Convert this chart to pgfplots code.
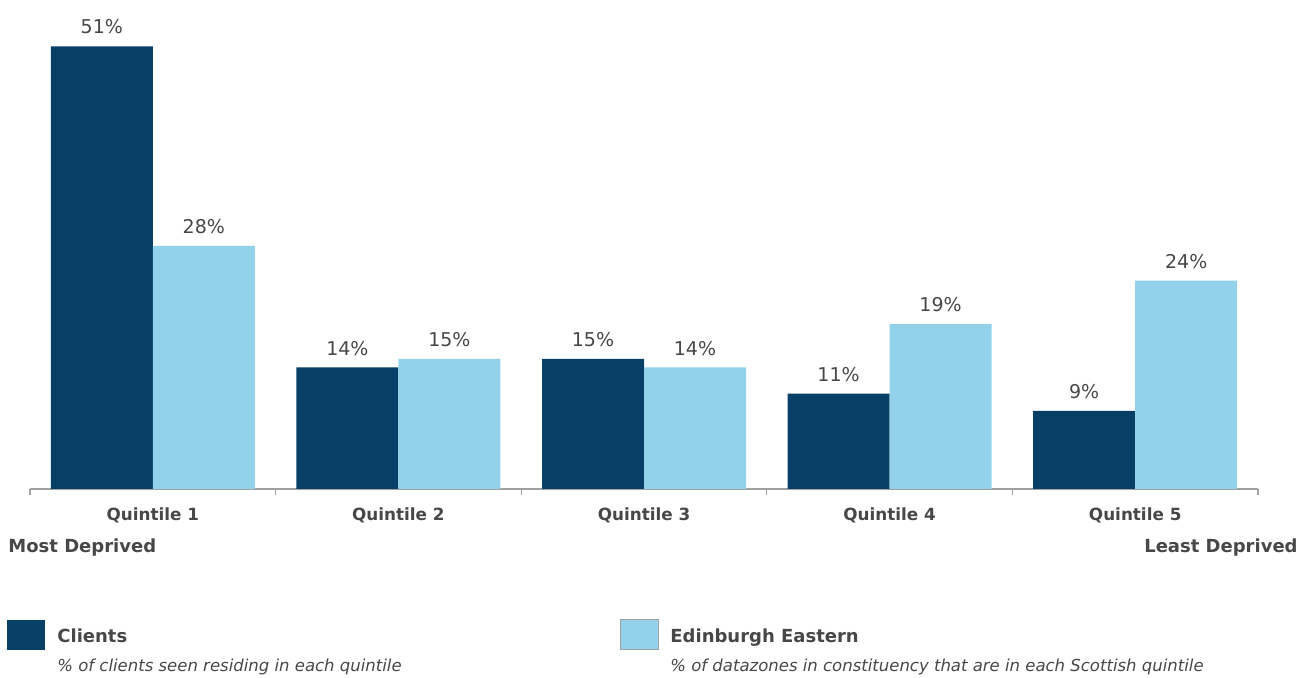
\documentclass[border=0pt]{standalone}
\usepackage{pgfplots}
\pgfplotsset{compat=1.18}
\usepackage{fontspec}
\setmainfont{DejaVu Sans}
\definecolor{clientblue}{HTML}{073F66}
\definecolor{edinblue}{HTML}{92D2EA}
\definecolor{txtgray}{HTML}{474747}
\definecolor{axgray}{HTML}{A0A0A0}
\begin{document}
\begin{tikzpicture}[font=\fontsize{9pt}{11pt}\selectfont, text=txtgray]
\path[use as bounding box] (0,0) rectangle (654.5pt,339pt);
\begin{axis}[
    at={(15pt,94.5pt)}, anchor=south west,
    scale only axis,
    width=614pt, height=238.7pt,
    ybar=0pt, bar width=51pt,
    xmin=-0.5, xmax=4.5,
    ymin=0, ymax=55,
    axis x line*=bottom, axis y line=none,
    x axis line style={axgray, line width=0.6pt},
    xtick={0,1,2,3,4},
    xticklabels={Quintile 1,Quintile 2,Quintile 3,Quintile 4,Quintile 5},
    xticklabel style={font=\fontsize{8.4pt}{10pt}\selectfont\bfseries, text=txtgray, yshift=-6pt},
    major tick length=0pt,
    minor xtick={-0.5,0.5,1.5,2.5,3.5,4.5},
    minor tick length=3pt,
    tick align=outside,
    minor tick style={axgray, line width=0.6pt},
    /pgf/number format/assume math mode=true,
    nodes near coords={\pgfmathprintnumber{\pgfplotspointmeta}\%},
    nodes near coords style={font=\fontsize{9.5pt}{11pt}\selectfont, text=txtgray, anchor=south, yshift=2.5pt},
    clip=false,
]
\addplot[draw=none, fill=clientblue] coordinates {(0,51) (1,14) (2,15) (3,11) (4,9)};
\addplot[draw=none, fill=edinblue] coordinates {(0,28) (1,15) (2,14) (3,19) (4,24)};
\end{axis}
\node[anchor=west, font=\fontsize{9pt}{11pt}\selectfont\bfseries, inner sep=0pt] at (4pt,65pt) {Most Deprived};
\node[anchor=east, font=\fontsize{9pt}{11pt}\selectfont\bfseries, inner sep=0pt] at (649pt,65pt) {Least Deprived};
\fill[clientblue] (3.5pt,14pt) rectangle (22.5pt,29pt);
\filldraw[fill=edinblue, draw=axgray, line width=0.5pt] (310pt,14pt) rectangle (329pt,29pt);
\node[anchor=base west, font=\fontsize{9pt}{11pt}\selectfont\bfseries, inner sep=0pt] at (28.5pt,17.7pt) {Clients};
\node[anchor=base west, font=\fontsize{8.25pt}{10pt}\selectfont\itshape, inner sep=0pt] at (28.5pt,3pt) {\% of clients seen residing in each quintile};
\node[anchor=base west, font=\fontsize{9pt}{11pt}\selectfont\bfseries, inner sep=0pt] at (335pt,17.7pt) {Edinburgh Eastern};
\node[anchor=base west, font=\fontsize{8.25pt}{10pt}\selectfont\itshape, inner sep=0pt] at (335pt,3pt) {\% of datazones in constituency that are in each Scottish quintile};
\end{tikzpicture}
\end{document}
